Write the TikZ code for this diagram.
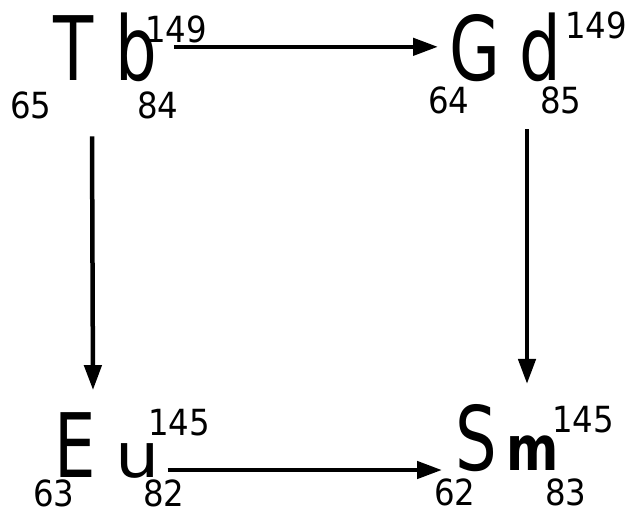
\documentclass[tikz,border=0pt]{standalone}
\usepackage{fontspec}
\setmainfont{DejaVu Sans Condensed}
\newfontfamily\symfont[FakeStretch=0.82]{DejaVu Sans Condensed}
\newfontfamily\lcfont[FakeStretch=0.9]{DejaVu Sans Condensed}
\newfontfamily\widefont[FakeStretch=1.25]{DejaVu Sans Condensed}
\newcommand\smalllc[1]{{\lcfont\bfseries\fontsize{62}{62}\selectfont #1}}
\newcommand\widelc[1]{{\widefont\fontsize{62}{62}\selectfont #1}}
\usepackage{tikz}
\usetikzlibrary{arrows.meta}

\begin{document}
\begin{tikzpicture}[
    x=1pt, y=-1pt,
    sym/.style={inner sep=0pt, outer sep=0pt, anchor=base west, font=\symfont\fontsize{89}{89}\selectfont},
    num/.style={inner sep=0pt, outer sep=0pt, anchor=base west, font=\fontsize{36}{36}\selectfont},
    arrow/.style={-{Triangle[length=25pt,width=17pt]}, line width=4.5pt}
  ]
    \useasboundingbox (0,0) rectangle (631,514);
    % Tb 149
    \node[sym] (tb) at (53,80) {T\kern22pt b};
    \node[num] (tbA) at (145,42) {149};
    \node[num] (tbZ) at (10,118) {65};
    \node[num] (tbN) at (137,118) {84};
    % Gd 149
    \node[sym] (gd) at (449,80) {G\kern20pt d};
    \node[num] (gdA) at (565,38) {149};
    \node[num] (gdZ) at (428,113) {64};
    \node[num] (gdN) at (540,113) {85};
    % Eu 145
    \node[sym] (eu) at (54,477) {E\kern20pt\widelc{u}};
    \node[num] (euA) at (148,435) {145};
    \node[num] (euZ) at (33,506) {63};
    \node[num] (euN) at (143,506) {82};
    % Sm 145
    \node[sym] (sm) at (455,470) {S\kern10pt\smalllc{m}};
    \node[num] (smA) at (552,432) {145};
    \node[num] (smZ) at (434,505) {62};
    \node[num] (smN) at (545,505) {83};
    % decays
    \draw[arrow] ([xshift=17pt]tb.east) -- ([xshift=-11pt]gd.west);
    \draw[arrow] ([xshift=39pt,yshift=-55pt]tb.south west) -- ([xshift=39pt,yshift=22pt]eu.north west);
    \draw[arrow] ([xshift=78pt,yshift=-48pt]gd.south west) -- ([xshift=72pt,yshift=20pt]sm.north west);
    \draw[arrow] ([xshift=8pt,yshift=7pt]eu.base east) -- ([xshift=-13pt]sm.base west);
  \end{tikzpicture}
\end{document}
